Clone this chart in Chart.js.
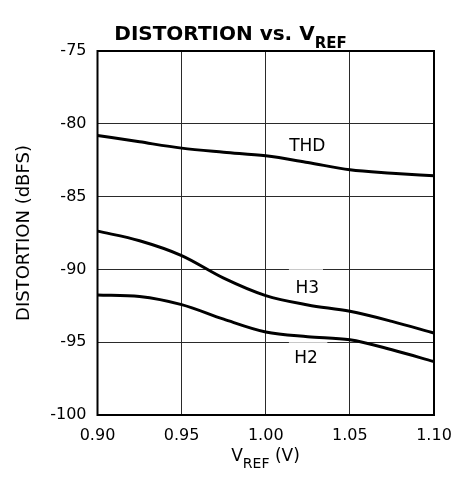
<!DOCTYPE html>
<html>
<head>
<meta charset="utf-8">
<script src="https://cdn.jsdelivr.net/npm/chart.js@4.4.1/dist/chart.umd.min.js"></script>
<style>
  html, body { margin: 0; background: #fff; overflow: hidden; }
  #wrap { position: relative; width: 461px; height: 485px; }
  .txt { position: absolute; font-family: "DejaVu Sans", sans-serif; color: #000; white-space: nowrap; }
  #title { top: 22px; left: 0; width: 461px; text-align: center; font-weight: bold; font-size: 20px; line-height: 22px; }
  #title sub { font-size: 15px; vertical-align: -8px; line-height: 0; }
  #xtitle { top: 445px; left: 97px; width: 337px; text-align: center; font-size: 17px; line-height: 20px; }
  #xtitle sub { font-size: 14px; vertical-align: -7px; line-height: 0; }
</style>
</head>
<body>
<div id="wrap">
  <canvas id="distChart"></canvas>
  <div id="title" class="txt">DISTORTION vs. V<sub>REF</sub></div>
  <div id="xtitle" class="txt">V<sub>REF</sub> (V)</div>
</div>
<script>
// VREF (V)
const vref = [0.90, 0.925, 0.95, 0.975, 1.00, 1.025, 1.05, 1.075, 1.10];
// distortion (dBFS)
const thd = [-80.8, -81.24, -81.67, -81.95, -82.2, -82.66, -83.16, -83.39, -83.57];
const h3 = [-87.37, -88.03, -89.05, -90.6, -91.8, -92.44, -92.88, -93.57, -94.37];
const h2 = [-91.75, -91.86, -92.42, -93.42, -94.3, -94.62, -94.83, -95.52, -96.33];

const seriesNames = ["THD", "H3", "H2"];
const labelX = [1.0247, 1.0247, 1.024];
const labelY = [-81.55, -91.3, -96.15];

const xTicks = [0.90, 0.95, 1.00, 1.05, 1.10];
const yMin = -100, yMax = -75, yStep = 5;

function toPoints(ys) {
    return ys.map((y, i) => ({ x: vref[i], y: y }));
}

// light gaps in the gridline behind the H3 / H2 labels, frame, curve names
const labelPlugin = {
    id: "labelPlugin",
    beforeDatasetsDraw(chart) {
        const { ctx, scales: { x, y } } = chart;
        const gaps = [[1.0138, 1.034, -90], [1.0138, 1.0365, -95]];
        ctx.save();
        ctx.strokeStyle = "#fff";
        ctx.lineWidth = 3;
        gaps.forEach(g => {
            ctx.beginPath();
            ctx.moveTo(x.getPixelForValue(g[0]), y.getPixelForValue(g[2]));
            ctx.lineTo(x.getPixelForValue(g[1]), y.getPixelForValue(g[2]));
            ctx.stroke();
        });
        ctx.strokeStyle = "#c8c8c8";
        ctx.lineWidth = 1;
        gaps.forEach(g => {
            const py = Math.round(y.getPixelForValue(g[2])) + 0.5;
            ctx.beginPath();
            ctx.moveTo(x.getPixelForValue(g[0]), py);
            ctx.lineTo(x.getPixelForValue(g[1]), py);
            ctx.stroke();
        });
        ctx.restore();
    },
    afterDatasetsDraw(chart) {
        const { ctx, chartArea: a, scales: { x, y } } = chart;
        ctx.save();
        ctx.strokeStyle = "#000";
        ctx.lineWidth = 2;
        ctx.strokeRect(a.left, a.top, a.right - a.left, a.bottom - a.top);
        ctx.fillStyle = "#000";
        ctx.font = "17px 'DejaVu Sans'";
        ctx.textAlign = "center";
        ctx.textBaseline = "middle";
        seriesNames.forEach((name, i) => {
            ctx.fillText(name, x.getPixelForValue(labelX[i]), y.getPixelForValue(labelY[i]));
        });
        ctx.restore();
    }
};

const lineStyle = {
    borderColor: "#000",
    borderWidth: 3,
    pointRadius: 0,
    fill: false,
    cubicInterpolationMode: "monotone"
};

new Chart(document.getElementById("distChart"), {
    type: "line",
    data: {
        datasets: [
            { label: "THD", data: toPoints(thd), ...lineStyle },
            { label: "H3", data: toPoints(h3), ...lineStyle },
            { label: "H2", data: toPoints(h2), ...lineStyle }
        ]
    },
    options: {
        responsive: true,
        maintainAspectRatio: false,
        animation: false,
        layout: { padding: { top: 51, right: 27, left: 0, bottom: 0 } },
        plugins: { legend: { display: false }, tooltip: { enabled: false } },
        scales: {
            x: {
                type: "linear",
                min: 0.90,
                max: 1.10,
                afterBuildTicks: s => { s.ticks = xTicks.map(v => ({ value: v })); },
                afterFit: s => { s.height = 70; s.paddingLeft = 0; s.paddingRight = 0; },
                grid: { color: "#2a2a2a", lineWidth: 1, drawTicks: false },
                border: { display: false },
                ticks: {
                    color: "#000",
                    padding: 11,
                    maxRotation: 0,
                    font: { family: "DejaVu Sans", size: 16 },
                    callback: v => v.toFixed(2)
                }
            },
            y: {
                min: yMin,
                max: yMax,
                afterFit: s => { s.width = 97.5; s.paddingTop = 0; s.paddingBottom = 0; },
                grid: { color: "#2a2a2a", lineWidth: 1, drawTicks: false },
                border: { display: false },
                ticks: {
                    stepSize: yStep,
                    color: "#000",
                    padding: 11,
                    font: { family: "DejaVu Sans", size: 16 }
                },
                title: {
                    display: true,
                    text: "DISTORTION (dBFS)",
                    color: "#000",
                    padding: { top: 14, bottom: 0 },
                    font: { family: "DejaVu Sans", size: 18 }
                }
            }
        }
    },
    plugins: [labelPlugin]
});
</script>
</body>
</html>
